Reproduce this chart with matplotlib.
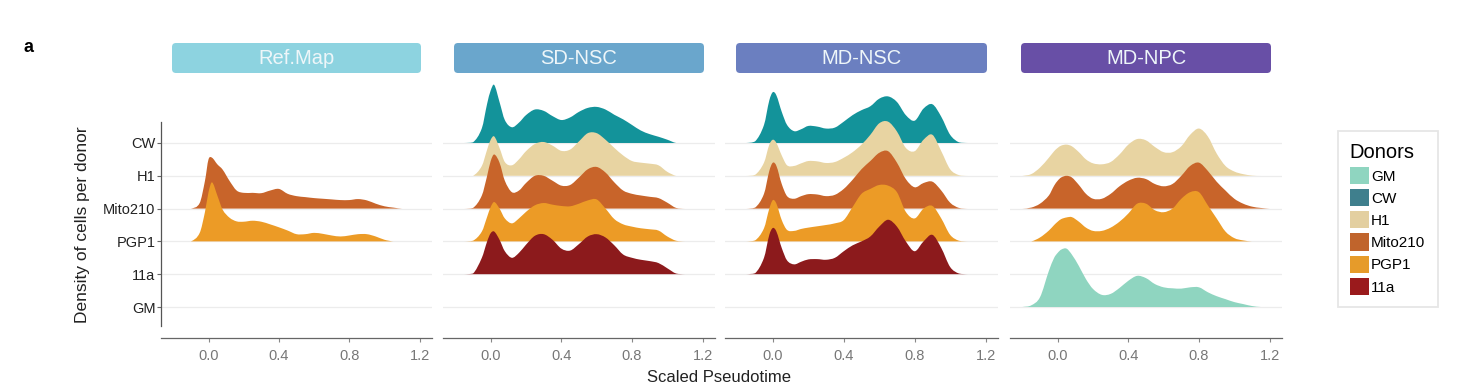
import matplotlib
matplotlib.use("Agg")
import matplotlib.pyplot as plt
from matplotlib.patches import FancyBboxPatch, Patch, PathPatch
from matplotlib.path import Path
from matplotlib.transforms import IdentityTransform

plt.rcParams["font.family"] = ["Liberation Sans", "DejaVu Sans"]

# pseudotime grid at which the ridge heights were read
grid = [-0.2, -0.15, -0.1, -0.05, -0.02, 0.0, 0.02, 0.05, 0.08, 0.12, 0.16, 0.2,
        0.25, 0.3, 0.35, 0.4, 0.45, 0.5, 0.55, 0.6, 0.65, 0.7, 0.75, 0.8, 0.85,
        0.9, 0.95, 1.0, 1.05, 1.1, 1.15, 1.2]

# ridge heights (in row units) per condition / donor
ref_mito210 = [0, 0, 0, 0.17, 0.85, 1.5, 1.55, 1.35, 1.19, 0.84, 0.55, 0.48, 0.48, 0.47, 0.55, 0.6,
               0.45, 0.38, 0.35, 0.32, 0.3, 0.28, 0.26, 0.26, 0.29, 0.25, 0.15, 0.07, 0.03, 0, 0, 0]
ref_pgp1 = [0, 0, 0, 0.26, 0.9, 1.5, 1.8, 1.4, 0.97, 0.72, 0.61, 0.6, 0.63, 0.6, 0.52, 0.43,
            0.33, 0.22, 0.22, 0.26, 0.23, 0.18, 0.15, 0.18, 0.22, 0.22, 0.15, 0.05, 0, 0, 0, 0]

sd_cw = [0, 0, 0.02, 0.45, 1.2, 1.6, 1.77, 1.25, 0.7, 0.48, 0.62, 0.85, 1.02, 0.98, 0.82, 0.7,
         0.78, 0.95, 1.07, 1.1, 1.02, 0.86, 0.72, 0.55, 0.38, 0.27, 0.19, 0.1, 0, 0, 0, 0]
sd_h1 = [0, 0, 0, 0.3, 0.8, 1.1, 1.2, 0.85, 0.42, 0.32, 0.5, 0.75, 0.97, 1.03, 0.92, 0.76,
         0.8, 1.05, 1.3, 1.3, 1.1, 0.85, 0.62, 0.45, 0.4, 0.37, 0.32, 0.12, 0, 0, 0, 0]
sd_mito210 = [0, 0, 0.02, 0.4, 1.0, 1.45, 1.65, 1.4, 0.85, 0.5, 0.55, 0.78, 1.0, 1.0, 0.85, 0.7,
              0.72, 0.95, 1.2, 1.27, 1.1, 0.8, 0.55, 0.45, 0.4, 0.36, 0.32, 0.18, 0.02, 0, 0, 0]
sd_pgp1 = [0, 0, 0.02, 0.3, 0.75, 1.05, 1.2, 1.0, 0.7, 0.55, 0.7, 0.9, 1.1, 1.17, 1.12, 1.08,
           1.07, 1.15, 1.25, 1.28, 1.0, 0.68, 0.52, 0.45, 0.4, 0.37, 0.33, 0.15, 0.02, 0, 0, 0]
sd_11a = [0, 0, 0.02, 0.5, 1.0, 1.25, 1.3, 1.05, 0.7, 0.5, 0.65, 0.9, 1.17, 1.22, 1.05, 0.78,
          0.72, 0.92, 1.15, 1.22, 1.12, 0.88, 0.6, 0.5, 0.44, 0.4, 0.34, 0.18, 0.02, 0, 0, 0]

md_cw = [0, 0, 0.05, 0.55, 1.3, 1.55, 1.45, 0.95, 0.55, 0.36, 0.42, 0.52, 0.5, 0.44, 0.47, 0.65,
         0.85, 1.0, 1.12, 1.35, 1.42, 1.25, 0.85, 0.68, 1.05, 1.18, 0.8, 0.25, 0.02, 0, 0, 0]
md_h1 = [0, 0, 0.03, 0.4, 0.95, 1.1, 1.0, 0.62, 0.32, 0.3, 0.38, 0.45, 0.44, 0.39, 0.42, 0.55,
         0.72, 0.95, 1.25, 1.6, 1.65, 1.35, 0.85, 0.75, 1.1, 1.25, 0.75, 0.2, 0.02, 0, 0, 0]
md_mito210 = [0, 0, 0.03, 0.45, 1.15, 1.4, 1.3, 0.75, 0.38, 0.3, 0.38, 0.44, 0.43, 0.38, 0.42, 0.6,
              0.88, 1.2, 1.45, 1.7, 1.75, 1.4, 0.9, 0.65, 0.78, 0.82, 0.55, 0.18, 0.02, 0, 0, 0]
md_pgp1 = [0, 0, 0.03, 0.4, 1.0, 1.26, 1.15, 0.65, 0.35, 0.32, 0.38, 0.42, 0.46, 0.5, 0.55, 0.65,
           1.05, 1.45, 1.6, 1.72, 1.7, 1.5, 0.9, 0.7, 1.0, 1.08, 0.7, 0.2, 0.02, 0, 0, 0]
md_11a = [0, 0, 0.03, 0.5, 1.2, 1.41, 1.3, 0.8, 0.42, 0.3, 0.38, 0.45, 0.46, 0.44, 0.5, 0.7,
          0.88, 1.0, 1.15, 1.45, 1.66, 1.45, 1.0, 0.7, 1.0, 1.2, 0.8, 0.22, 0.02, 0, 0, 0]

npc_h1 = [0, 0.05, 0.25, 0.55, 0.75, 0.85, 0.92, 0.95, 0.9, 0.72, 0.5, 0.38, 0.35, 0.42, 0.65, 0.95,
          1.12, 1.08, 0.88, 0.72, 0.72, 0.9, 1.25, 1.44, 1.2, 0.68, 0.3, 0.13, 0.05, 0.01, 0, 0]
npc_mito210 = [0, 0.03, 0.15, 0.4, 0.7, 0.85, 0.95, 1.0, 0.95, 0.72, 0.45, 0.3, 0.3, 0.45, 0.68, 0.85,
               0.94, 0.9, 0.75, 0.68, 0.75, 1.0, 1.3, 1.4, 1.15, 0.82, 0.55, 0.3, 0.15, 0.06, 0.02, 0]
npc_pgp1 = [0, 0, 0.12, 0.33, 0.5, 0.6, 0.68, 0.73, 0.74, 0.6, 0.42, 0.32, 0.32, 0.42, 0.6, 0.85,
            1.15, 1.15, 0.95, 0.89, 1.0, 1.3, 1.5, 1.5, 1.1, 0.7, 0.3, 0.1, 0.03, 0, 0, 0]
npc_gm = [0, 0.05, 0.3, 1.1, 1.5, 1.65, 1.75, 1.78, 1.6, 1.25, 0.85, 0.55, 0.37, 0.4, 0.58, 0.8,
          0.95, 0.88, 0.7, 0.6, 0.57, 0.56, 0.6, 0.6, 0.45, 0.33, 0.24, 0.15, 0.09, 0.03, 0, 0]

rows = ["GM", "11a", "PGP1", "Mito210", "H1", "CW"]
conditions = ["Ref.Map", "SD-NSC", "MD-NSC", "MD-NPC"]
panel_data = [
    {"Mito210": ref_mito210, "PGP1": ref_pgp1},
    {"CW": sd_cw, "H1": sd_h1, "Mito210": sd_mito210, "PGP1": sd_pgp1, "11a": sd_11a},
    {"CW": md_cw, "H1": md_h1, "Mito210": md_mito210, "PGP1": md_pgp1, "11a": md_11a},
    {"H1": npc_h1, "Mito210": npc_mito210, "PGP1": npc_pgp1, "GM": npc_gm},
]

donor_colors = {"GM": "#8fd5c0", "CW": "#13939a", "H1": "#e8d4a2", "Mito210": "#c8642a",
                "PGP1": "#ec9b26", "11a": "#8c1a1c"}
legend_colors = {"GM": "#8fd5c0", "CW": "#3f7f8d", "H1": "#e3cfa0", "Mito210": "#c0642c",
                 "PGP1": "#e69b2a", "11a": "#9a1a1c"}
strip_colors = ["#8dd3e0", "#6aa6cc", "#6b7fc0", "#684fa6"]


def ridge_path(xs, hs, base):
    """Smooth ridge outline: cubic Hermite segments drawn as Bezier curves."""
    n = len(xs)
    slopes = []
    for i in range(n):
        a, b = max(i - 1, 0), min(i + 1, n - 1)
        slopes.append((hs[b] - hs[a]) / (xs[b] - xs[a]))
    verts = [(xs[0], base), (xs[0], base + hs[0])]
    codes = [Path.MOVETO, Path.LINETO]
    for i in range(n - 1):
        dx = xs[i + 1] - xs[i]
        c1 = hs[i] + slopes[i] * dx / 3
        c2 = hs[i + 1] - slopes[i + 1] * dx / 3
        verts += [(xs[i] + dx / 3, base + max(c1, 0)),
                  (xs[i + 1] - dx / 3, base + max(c2, 0)),
                  (xs[i + 1], base + hs[i + 1])]
        codes += [Path.CURVE4] * 3
    verts += [(xs[-1], base), (xs[0], base)]
    codes += [Path.LINETO, Path.CLOSEPOLY]
    return Path(verts, codes)


W, H = 1467, 390
fig = plt.figure(figsize=(W / 100, H / 100), dpi=100)

panel_px = [(161, 432), (443, 715), (725, 998), (1010, 1282)]
ax_top, ax_bot = 80, 338

for i, (x0, x1) in enumerate(panel_px):
    ax = fig.add_axes([x0 / W, 1 - ax_bot / H, (x1 - x0) / W, (ax_bot - ax_top) / H])
    ax.set_xlim(-0.27, 1.27)
    ax.set_ylim(-0.945, 6.92)
    for r in range(len(rows)):
        ax.axhline(r, color="#ececec", lw=0.9, zorder=0)
    data = panel_data[i]
    # top rows first so the lower ridges overlap them
    for r in range(len(rows) - 1, -1, -1):
        donor = rows[r]
        if donor not in data:
            continue
        patch = PathPatch(ridge_path(grid, data[donor], r), facecolor=donor_colors[donor],
                          edgecolor="none", zorder=10 - r)
        ax.add_patch(patch)
    for s in ["top", "right"]:
        ax.spines[s].set_visible(False)
    ax.spines["bottom"].set_color("#666666")
    ax.spines["bottom"].set_linewidth(0.9)
    ax.set_xticks([0, 0.4, 0.8, 1.2])
    ax.set_xticklabels(["0.0", "0.4", "0.8", "1.2"])
    ax.tick_params(axis="x", colors="#888888", labelcolor="#777777", labelsize=10.5,
                   length=3, width=0.8, pad=5)
    if i == 0:
        ax.spines["left"].set_color("#555555")
        ax.spines["left"].set_linewidth(0.9)
        ax.spines["left"].set_bounds(-0.58, 5.64)
        ax.set_yticks(range(len(rows)))
        ax.set_yticklabels(rows)
        ax.tick_params(axis="y", colors="#666666", labelcolor="#222222", labelsize=10.5,
                       length=3, width=0.8, pad=1)
    else:
        ax.spines["left"].set_visible(False)
        ax.set_yticks([])

    # facet strip
    sx0, sx1 = x0 + 11, x1 - 11
    strip = FancyBboxPatch((sx0, H - 73), sx1 - sx0, 30,
                           boxstyle="round,pad=0,rounding_size=4",
                           transform=IdentityTransform(), facecolor=strip_colors[i],
                           edgecolor="none")
    fig.add_artist(strip)
    fig.text((sx0 + sx1) / 2 / W, 1 - 58 / H, conditions[i], ha="center", va="center",
             color="#eef6f9", fontsize=14.5)

fig.text(28 / W, 1 - 48 / H, "a", fontsize=13, fontweight="bold", ha="center", va="center")
fig.text(82 / W, 1 - 225 / H, "Density of cells per donor", rotation=90, ha="center",
         va="center", fontsize=12.5, color="#222222")
fig.text(719 / W, 1 - 377 / H, "Scaled Pseudotime", ha="center", va="center",
         fontsize=12, color="#222222")

legend_order = ["GM", "CW", "H1", "Mito210", "PGP1", "11a"]
handles = [Patch(facecolor=legend_colors[d], edgecolor="none", label=d) for d in legend_order]
leg = fig.legend(handles=handles, title="Donors", loc="upper left",
                 bbox_to_anchor=(1330 / W, 1 - 123 / H), fontsize=11, title_fontsize=14.5,
                 frameon=True, fancybox=False, handlelength=1.25, handleheight=1.35,
                 handletextpad=0.15, labelspacing=0.33, borderpad=0.8)
leg.get_frame().set_edgecolor("#e0e0e0")
leg.get_frame().set_linewidth(1.3)
leg._legend_box.align = "left"

fig.savefig("out.png", dpi=100, facecolor="white")
